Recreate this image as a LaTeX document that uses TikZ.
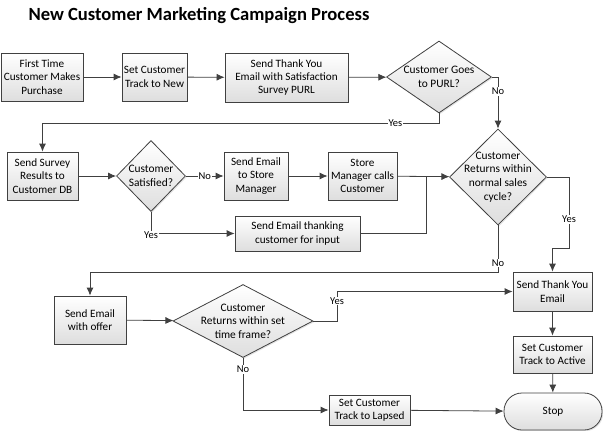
\documentclass[tikz,border=0pt]{standalone}
\usepackage{fontspec}
\setmainfont{Carlito}
\usepackage{tikz}
\usetikzlibrary{arrows.meta}
\usetikzlibrary{shapes.geometric}
\usetikzlibrary{shadows}

\begin{document}
\begin{tikzpicture}[x=1pt,y=-1pt]
\tikzset{>={Latex[width=7pt,length=8pt]}}
\tikzstyle{process} =[rectangle, draw=black!75, line width=0.8pt, top color=white, bottom color=black!13, drop shadow={shadow xshift=1.2pt,shadow yshift=-1.2pt,fill=black!22}, align=center, inner sep=1pt, font=\fontsize{11.2}{13.4}\selectfont]
\tikzstyle{decision} =[diamond, draw=black!75, line width=0.8pt, top color=white, bottom color=black!13, drop shadow={shadow xshift=1.2pt,shadow yshift=-1.2pt,fill=black!22}, inner sep=0pt]
\tikzstyle{dtext} =[align=center, font=\fontsize{11.4}{13.6}\selectfont]
\tikzstyle{flow} =[draw=black!75, line width=0.8pt]
\tikzstyle{lab} =[fill=white, inner sep=1pt, font=\fontsize{10.5}{12}\selectfont]

\useasboundingbox (0,0) rectangle (603,431);

\node[font=\fontsize{18.6}{22}\bfseries\selectfont] (title) at (199,16) {New Customer Marketing Campaign Process};

% first row
\node[process,minimum width=82,minimum height=48](first) at (42,77){First Time\\Customer Makes\\Purchase};
\node[process,minimum width=65,minimum height=48](tracknew) at (154.5,77){Set Customer\\Track to New};
\node[process,minimum width=123,minimum height=49](thanksurvey) at (286.5,77.5){Send Thank You\\Email with Satisfaction\\Survey PURL};
\node[decision,minimum width=105,minimum height=72,label={[dtext]center:{Customer Goes\\to PURL?}}](purl) at (439,77){};

% second row
\node[process,minimum width=71,minimum height=48](survey) at (42.5,176){Send Survey\\Results to\\Customer DB};
\node[decision,minimum width=69,minimum height=71,label={[dtext]center:{Customer\\Satisfied?}}](satisfied) at (151,176){};
\node[process,minimum width=64,minimum height=48](emailmgr) at (256,176){Send Email\\to Store\\Manager};
\node[process,minimum width=69,minimum height=48](mgrcalls) at (362.5,176){Store\\Manager calls\\Customer};
\node[process,minimum width=125,minimum height=35](thankinput) at (297.5,233.5){Send Email thanking\\customer for input};
\node[decision,minimum width=97,minimum height=96,label={[dtext]center:{Customer\\Returns within\\normal sales\\cycle?}}](normal) at (498,177){};

% third row
\node[process,minimum width=72,minimum height=48](offer) at (90,320){Send Email\\with offer};
\node[decision,minimum width=140,minimum height=73,label={[dtext]center:{Customer\\Returns within set\\time frame?}}](settime) at (243,321){};
\node[process,minimum width=79,minimum height=39](thankemail) at (552.5,291.5){Send Thank You\\Email};
\node[process,minimum width=79,minimum height=37](active) at (552.5,354.5){Set Customer\\Track to Active};
\node[process,minimum width=81,minimum height=30](lapsed) at (369.5,410){Set Customer\\Track to Lapsed};
\node[process,minimum width=98,minimum height=37,rounded corners=18pt](stop) at (553,411.5){Stop};

\coordinate (join) at (426,176);
\coordinate (yesbend) at (569,248);
\coordinate (yesup) at (337,291.5);

\draw [->,flow] (first) to (tracknew);
\draw [->,flow] (tracknew) to (thanksurvey);
\draw [->,flow] (thanksurvey) to (purl);
\draw [->,flow] (purl.east) -| (normal.north) node[lab,pos=0.64]{No};
\draw [->,flow] (purl.south) -- ++(0,10) -| (survey.north) node[lab,pos=0.055]{Yes};

\draw [->,flow] (survey) to (satisfied);
\draw [->,flow] (satisfied) to node[lab]{No} (emailmgr);
\draw [->,flow] (emailmgr) to (mgrcalls);
\draw [->,flow] (mgrcalls) to (normal);
\draw [->,flow] (satisfied.south) |- (thankinput.west) node[lab,pos=0.5,yshift=-2pt]{Yes};
\draw [flow] (thankinput.east) -| (join);

\draw [->,flow] (normal.east) -| (yesbend) node[lab,pos=0.8]{Yes} -| (thankemail.north);
\draw [->,flow] (normal.south) -- ++(0,47) node[lab,pos=0.8]{No} -| (offer.north);

\draw [->,flow] (offer) to (settime);
\draw [->,flow] (settime.east) -| (yesup) node[lab,pos=0.84]{Yes} -- (thankemail.west);
\draw [->,flow] (settime.south) |- (lapsed.west) node[lab,pos=0.11]{No};
\draw [->,flow] (lapsed) to (stop);
\draw [->,flow] (thankemail) to (active);
\draw [->,flow] (active) to (stop);
\end{tikzpicture}
\end{document}
